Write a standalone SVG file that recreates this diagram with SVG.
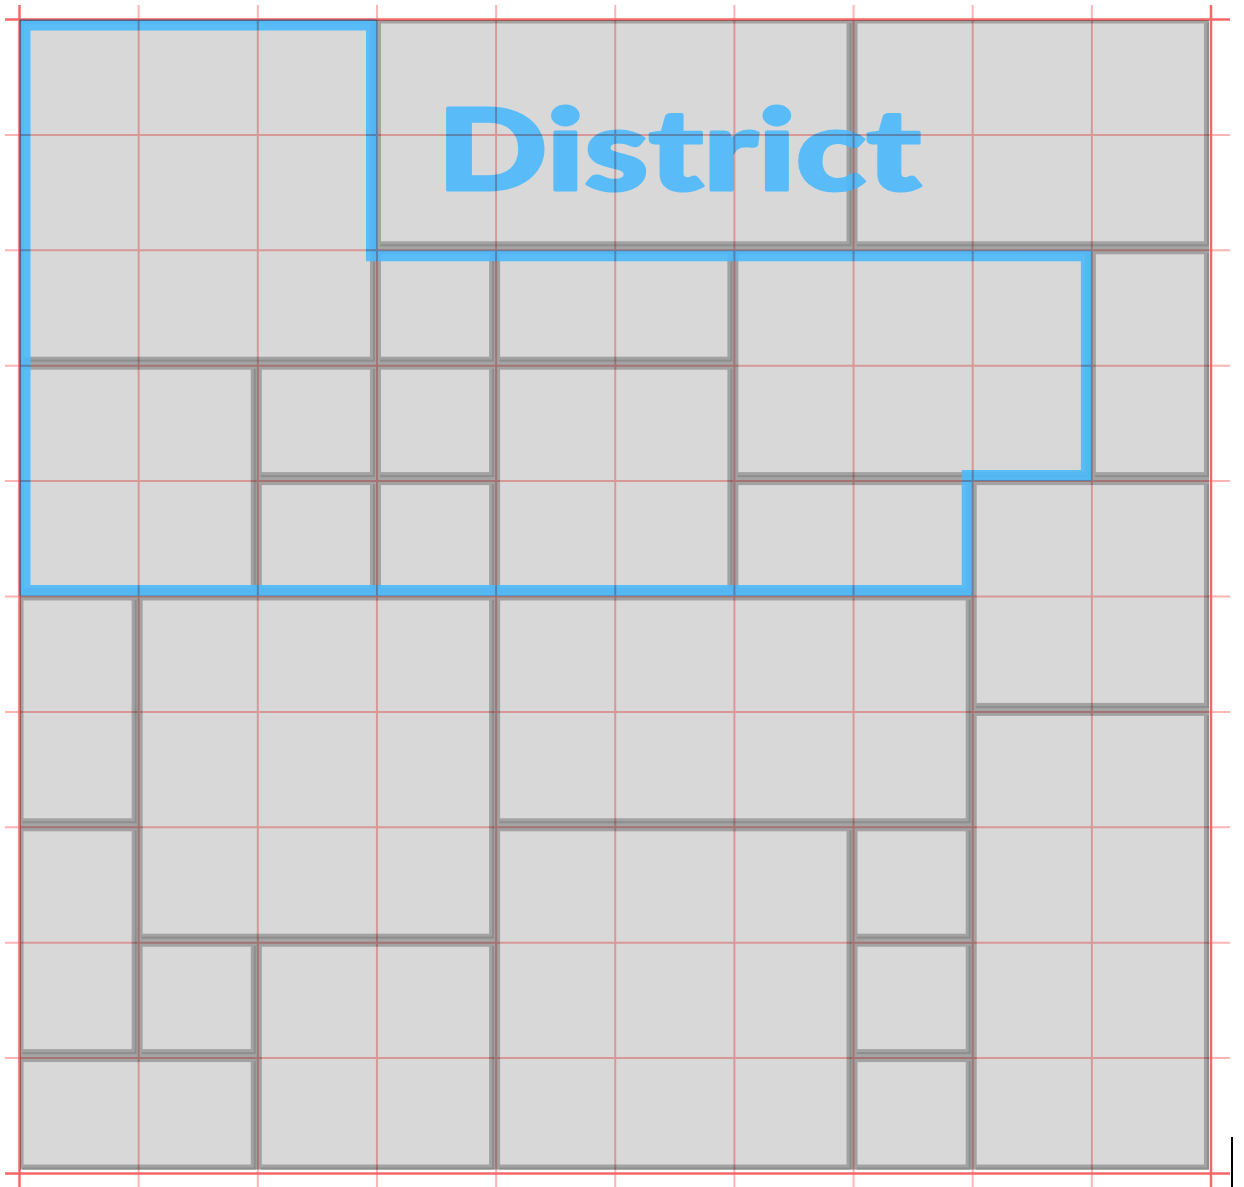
<svg xmlns="http://www.w3.org/2000/svg" width="1244" height="1187" viewBox="0 0 1244 1187">
<style>
.sh{fill:#8e8e8e}
.bk{fill:#d8d8d8;stroke:#a2a2a2;stroke-width:3}
.gl{stroke:#ffb4b4;stroke-width:2;fill:none}
.go{stroke:#f56868;stroke-width:2.5;fill:none}
.dist{fill:none;stroke:#4cbafc;stroke-width:11;stroke-linejoin:miter}
.dtext{fill:#4cbafc;stroke:#4cbafc;stroke-width:3;stroke-linejoin:round;font-family:Lato,Inter,'DejaVu Sans',sans-serif;font-weight:900;font-size:112px}
</style>
<rect width="1244" height="1187" fill="#ffffff"/>
<rect id="base" x="20" y="20" width="1189" height="1149.6" fill="#a4a4a4"/>
<g id="blocks">
<g id="b1" transform="translate(19.5,19.5)"><rect class="sh" x="3" y="3" width="352.45" height="339.2"/><rect class="bk" x="2.5" y="2.5" width="349.45" height="336.2"/></g>
<g id="b2" transform="translate(376.95,19.5)"><rect class="sh" x="3" y="3" width="471.6" height="223.8"/><rect class="bk" x="2.5" y="2.5" width="468.6" height="220.8"/></g>
<g id="b3" transform="translate(853.55,19.5)"><rect class="sh" x="3" y="3" width="352.45" height="223.8"/><rect class="bk" x="2.5" y="2.5" width="349.45" height="220.8"/></g>
<g id="b4" transform="translate(376.95,250.3)"><rect class="sh" x="3" y="3" width="114.15" height="108.4"/><rect class="bk" x="2.5" y="2.5" width="111.15" height="105.4"/></g>
<g id="b5" transform="translate(496.1,250.3)"><rect class="sh" x="3" y="3" width="233.3" height="108.4"/><rect class="bk" x="2.5" y="2.5" width="230.3" height="105.4"/></g>
<g id="b6" transform="translate(734.4,250.3)"><rect class="sh" x="3" y="3" width="352.45" height="223.8"/><rect class="bk" x="2.5" y="2.5" width="349.45" height="220.8"/></g>
<g id="b7" transform="translate(1091.85,250.3)"><rect class="sh" x="3" y="3" width="114.15" height="223.8"/><rect class="bk" x="2.5" y="2.5" width="111.15" height="220.8"/></g>
<g id="b8" transform="translate(19.5,365.7)"><rect class="sh" x="3" y="3" width="233.3" height="223.8"/><rect class="bk" x="2.5" y="2.5" width="230.3" height="220.8"/></g>
<g id="b9" transform="translate(257.8,365.7)"><rect class="sh" x="3" y="3" width="114.15" height="108.4"/><rect class="bk" x="2.5" y="2.5" width="111.15" height="105.4"/></g>
<g id="b10" transform="translate(376.95,365.7)"><rect class="sh" x="3" y="3" width="114.15" height="108.4"/><rect class="bk" x="2.5" y="2.5" width="111.15" height="105.4"/></g>
<g id="b11" transform="translate(496.1,365.7)"><rect class="sh" x="3" y="3" width="233.3" height="223.8"/><rect class="bk" x="2.5" y="2.5" width="230.3" height="220.8"/></g>
<g id="b12" transform="translate(257.8,481.1)"><rect class="sh" x="3" y="3" width="114.15" height="108.4"/><rect class="bk" x="2.5" y="2.5" width="111.15" height="105.4"/></g>
<g id="b13" transform="translate(376.95,481.1)"><rect class="sh" x="3" y="3" width="114.15" height="108.4"/><rect class="bk" x="2.5" y="2.5" width="111.15" height="105.4"/></g>
<g id="b14" transform="translate(734.4,481.1)"><rect class="sh" x="3" y="3" width="233.3" height="108.4"/><rect class="bk" x="2.5" y="2.5" width="230.3" height="105.4"/></g>
<g id="b15" transform="translate(972.7,481.1)"><rect class="sh" x="3" y="3" width="233.3" height="223.8"/><rect class="bk" x="2.5" y="2.5" width="230.3" height="220.8"/></g>
<g id="b16" transform="translate(19.5,596.5)"><rect class="sh" x="3" y="3" width="114.15" height="223.8"/><rect class="bk" x="2.5" y="2.5" width="111.15" height="220.8"/></g>
<g id="b17" transform="translate(138.65,596.5)"><rect class="sh" x="3" y="3" width="352.45" height="339.2"/><rect class="bk" x="2.5" y="2.5" width="349.45" height="336.2"/></g>
<g id="b18" transform="translate(496.1,596.5)"><rect class="sh" x="3" y="3" width="471.6" height="223.8"/><rect class="bk" x="2.5" y="2.5" width="468.6" height="220.8"/></g>
<g id="b19" transform="translate(972.7,711.9)"><rect class="sh" x="3" y="3" width="233.3" height="454.6"/><rect class="bk" x="2.5" y="2.5" width="230.3" height="451.6"/></g>
<g id="b20" transform="translate(19.5,827.3)"><rect class="sh" x="3" y="3" width="114.15" height="223.8"/><rect class="bk" x="2.5" y="2.5" width="111.15" height="220.8"/></g>
<g id="b21" transform="translate(496.1,827.3)"><rect class="sh" x="3" y="3" width="352.45" height="339.2"/><rect class="bk" x="2.5" y="2.5" width="349.45" height="336.2"/></g>
<g id="b22" transform="translate(853.55,827.3)"><rect class="sh" x="3" y="3" width="114.15" height="108.4"/><rect class="bk" x="2.5" y="2.5" width="111.15" height="105.4"/></g>
<g id="b23" transform="translate(138.65,942.7)"><rect class="sh" x="3" y="3" width="114.15" height="108.4"/><rect class="bk" x="2.5" y="2.5" width="111.15" height="105.4"/></g>
<g id="b24" transform="translate(257.8,942.7)"><rect class="sh" x="3" y="3" width="233.3" height="223.8"/><rect class="bk" x="2.5" y="2.5" width="230.3" height="220.8"/></g>
<g id="b25" transform="translate(853.55,942.7)"><rect class="sh" x="3" y="3" width="114.15" height="108.4"/><rect class="bk" x="2.5" y="2.5" width="111.15" height="105.4"/></g>
<g id="b26" transform="translate(19.5,1058.1)"><rect class="sh" x="3" y="3" width="233.3" height="108.4"/><rect class="bk" x="2.5" y="2.5" width="230.3" height="105.4"/></g>
<g id="b27" transform="translate(853.55,1058.1)"><rect class="sh" x="3" y="3" width="114.15" height="108.4"/><rect class="bk" x="2.5" y="2.5" width="111.15" height="105.4"/></g>
</g>
<g id="district" opacity="0.9">
<path class="dist" d="M25,25 L371.45,25 L371.45,255.8 L1086.35,255.8 L1086.35,475.6 L967.2,475.6 L967.2,590.5 L25,590.5 Z"/>
<text class="dtext" x="437" y="190" textLength="484" lengthAdjust="spacingAndGlyphs">District</text>
</g>
<g id="grid" style="mix-blend-mode:multiply">
<g class="gl">
<path d="M138.65,5V1187M257.8,5V1187M376.95,5V1187M496.1,5V1187M615.25,5V1187M734.4,5V1187M853.55,5V1187M972.7,5V1187M1091.85,5V1187"/>
<path d="M5,134.9H1230M5,250.3H1230M5,365.7H1230M5,481.1H1230M5,596.5H1230M5,711.9H1230M5,827.3H1230M5,942.7H1230M5,1058.1H1230"/>
</g>
<g class="go">
<path d="M19.5,5V1187M1211,5V1187M5,19.5H1230M5,1173.5H1230"/>
</g>
</g>
<line x1="1232" y1="1137" x2="1232" y2="1187" stroke="#000" stroke-width="2"/>
</svg>
